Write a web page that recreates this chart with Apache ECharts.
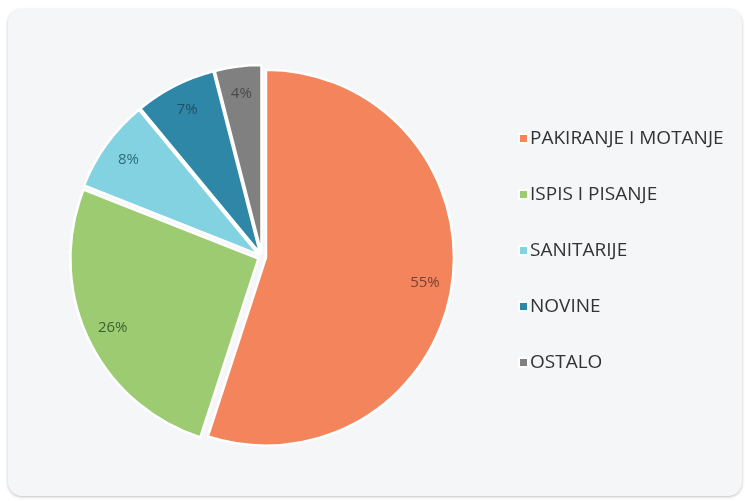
<!DOCTYPE html>
<html>
<head>
<meta charset="utf-8">
<script src="https://cdn.jsdelivr.net/npm/echarts@6/dist/echarts.min.js"></script>
<style>
  html, body { margin: 0; padding: 0; background: #ffffff; }
  #panel {
    position: absolute; left: 8px; top: 9px; width: 734px; height: 487px;
    background: #f4f6f8; border-radius: 14px;
    box-shadow: 0 1px 3px rgba(0,0,0,0.25);
  }
  #chart { position: absolute; left: 0; top: 0; width: 745px; height: 501px; }
</style>
</head>
<body>
<div id="panel"></div>
<div id="chart"></div>
<script>
const categories = ['PAKIRANJE I MOTANJE', 'ISPIS I PISANJE', 'SANITARIJE', 'NOVINE', 'OSTALO'];
const values = [55, 26, 8, 7, 4];
const colors = ['#f4845c', '#9dcb72', '#82d2e2', '#2f87a7', '#808080'];
const labelColors = ['#7a4030', '#3f5f2f', '#2f6e78', '#1f4f63', '#4a4a4a'];

const chart = echarts.init(document.getElementById('chart'));

const pieData = categories.map((name, i) => ({
  name: name,
  value: values[i],
  selected: true,
  itemStyle: { color: colors[i] }
}));

const labelData = categories.map((name, i) => ({
  name: name,
  value: values[i],
  label: { color: labelColors[i] }
}));

chart.setOption({
  backgroundColor: 'transparent',
  color: colors,
  animation: false,
  legend: {
    orient: 'vertical',
    left: 513,
    top: 124,
    itemWidth: 9,
    itemHeight: 9,
    itemGap: 37,
    icon: 'rect',
    textStyle: { fontFamily: 'Open Sans', fontSize: 19, color: '#333333', padding: [0, 0, 0, -3] },
    data: categories
  },
  series: [
    {
      type: 'pie',
      center: [262, 257],
      radius: 188,
      startAngle: 90,
      clockwise: true,
      selectedMode: 'multiple',
      selectedOffset: 4,
      itemStyle: { borderColor: '#ffffff', borderWidth: 2.5 },
      label: { show: false },
      labelLine: { show: false },
      emphasis: { disabled: true },
      data: pieData
    },
    {
      type: 'pie',
      center: [262, 257],
      radius: [136, 188],
      startAngle: 90,
      clockwise: true,
      silent: true,
      itemStyle: { color: 'transparent' },
      label: {
        show: true,
        position: 'inside',
        formatter: '{c}%',
        fontFamily: 'Open Sans',
        fontSize: 15
      },
      labelLine: { show: false },
      data: labelData
    }
  ]
});
</script>
</body>
</html>
